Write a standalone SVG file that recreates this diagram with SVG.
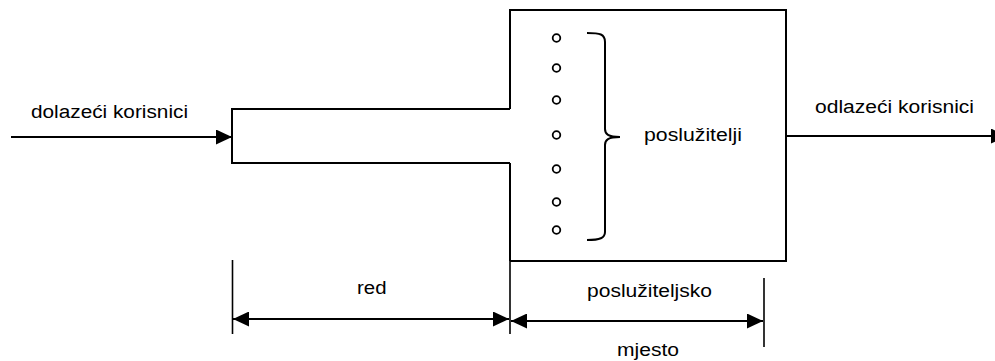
<svg xmlns="http://www.w3.org/2000/svg" width="995" height="361" viewBox="0 0 995 361">
<defs>
<marker id="arr" markerUnits="userSpaceOnUse" markerWidth="16" markerHeight="15" refX="16" refY="7.5" orient="auto-start-reverse">
<path d="M0,0 L16,7.5 L0,15 Z" fill="#000"/>
</marker>
<style>
.ln{fill:none;stroke:#000;stroke-width:2}
.tk{fill:none;stroke:#000;stroke-width:1.6}
.srv{fill:#fff;stroke:#000;stroke-width:1.8}
.t{font-family:"Liberation Sans",Arial,sans-serif;font-size:18px;fill:#000}
</style>
</defs>
<rect width="995" height="361" fill="#fff"/>
<g id="queue">
<path class="ln" d="M510,109 H232 V163 H510"/>
</g>
<g id="server-place">
<path class="ln" d="M510,109 V10 H786 V261 H510"/>
<line class="ln" x1="510" y1="163" x2="510" y2="261"/>
</g>
<g id="servers">
<circle class="srv" cx="556.5" cy="38" r="3.8"/>
<circle class="srv" cx="556.5" cy="68" r="3.8"/>
<circle class="srv" cx="556.5" cy="100" r="3.8"/>
<circle class="srv" cx="556.5" cy="135" r="3.8"/>
<circle class="srv" cx="556.5" cy="169" r="3.8"/>
<circle class="srv" cx="556.5" cy="202" r="3.8"/>
<circle class="srv" cx="556.5" cy="230" r="3.8"/>
<path class="ln" d="M587,33 C600,33 605,34 605,42 L605,129 C605,134 608,137 620,137 M620,137 C608,137 605,140 605,145 L605,232 C605,238 600,240 587,240"/>
</g>
<g id="labels">
<text class="t" x="31" y="118" textLength="157" lengthAdjust="spacingAndGlyphs">dolazeći korisnici</text>
<text class="t" x="815" y="113" textLength="159" lengthAdjust="spacingAndGlyphs">odlazeći korisnici</text>
<text class="t" x="644" y="141" textLength="98" lengthAdjust="spacingAndGlyphs">poslužitelji</text>
<text class="t" x="357" y="293.5" textLength="29.5" lengthAdjust="spacingAndGlyphs">red</text>
<text class="t" x="587" y="297" textLength="125" lengthAdjust="spacingAndGlyphs">poslužiteljsko</text>
<text class="t" x="617" y="356" textLength="62" lengthAdjust="spacingAndGlyphs">mjesto</text>
</g>
<g id="connectors">
<line class="ln" x1="11" y1="137" x2="232" y2="137" marker-end="url(#arr)"/>
<line class="ln" x1="786" y1="136" x2="1007" y2="136" marker-end="url(#arr)"/>
<line class="tk" x1="232.5" y1="260" x2="232.5" y2="334"/>
<line class="tk" x1="510" y1="261" x2="510" y2="334"/>
<line class="tk" x1="764" y1="278" x2="764" y2="347"/>
<line class="ln" x1="233" y1="319" x2="509" y2="319" marker-start="url(#arr)" marker-end="url(#arr)"/>
<line class="ln" x1="511" y1="321" x2="763" y2="321" marker-start="url(#arr)" marker-end="url(#arr)"/>
</g>
</svg>
